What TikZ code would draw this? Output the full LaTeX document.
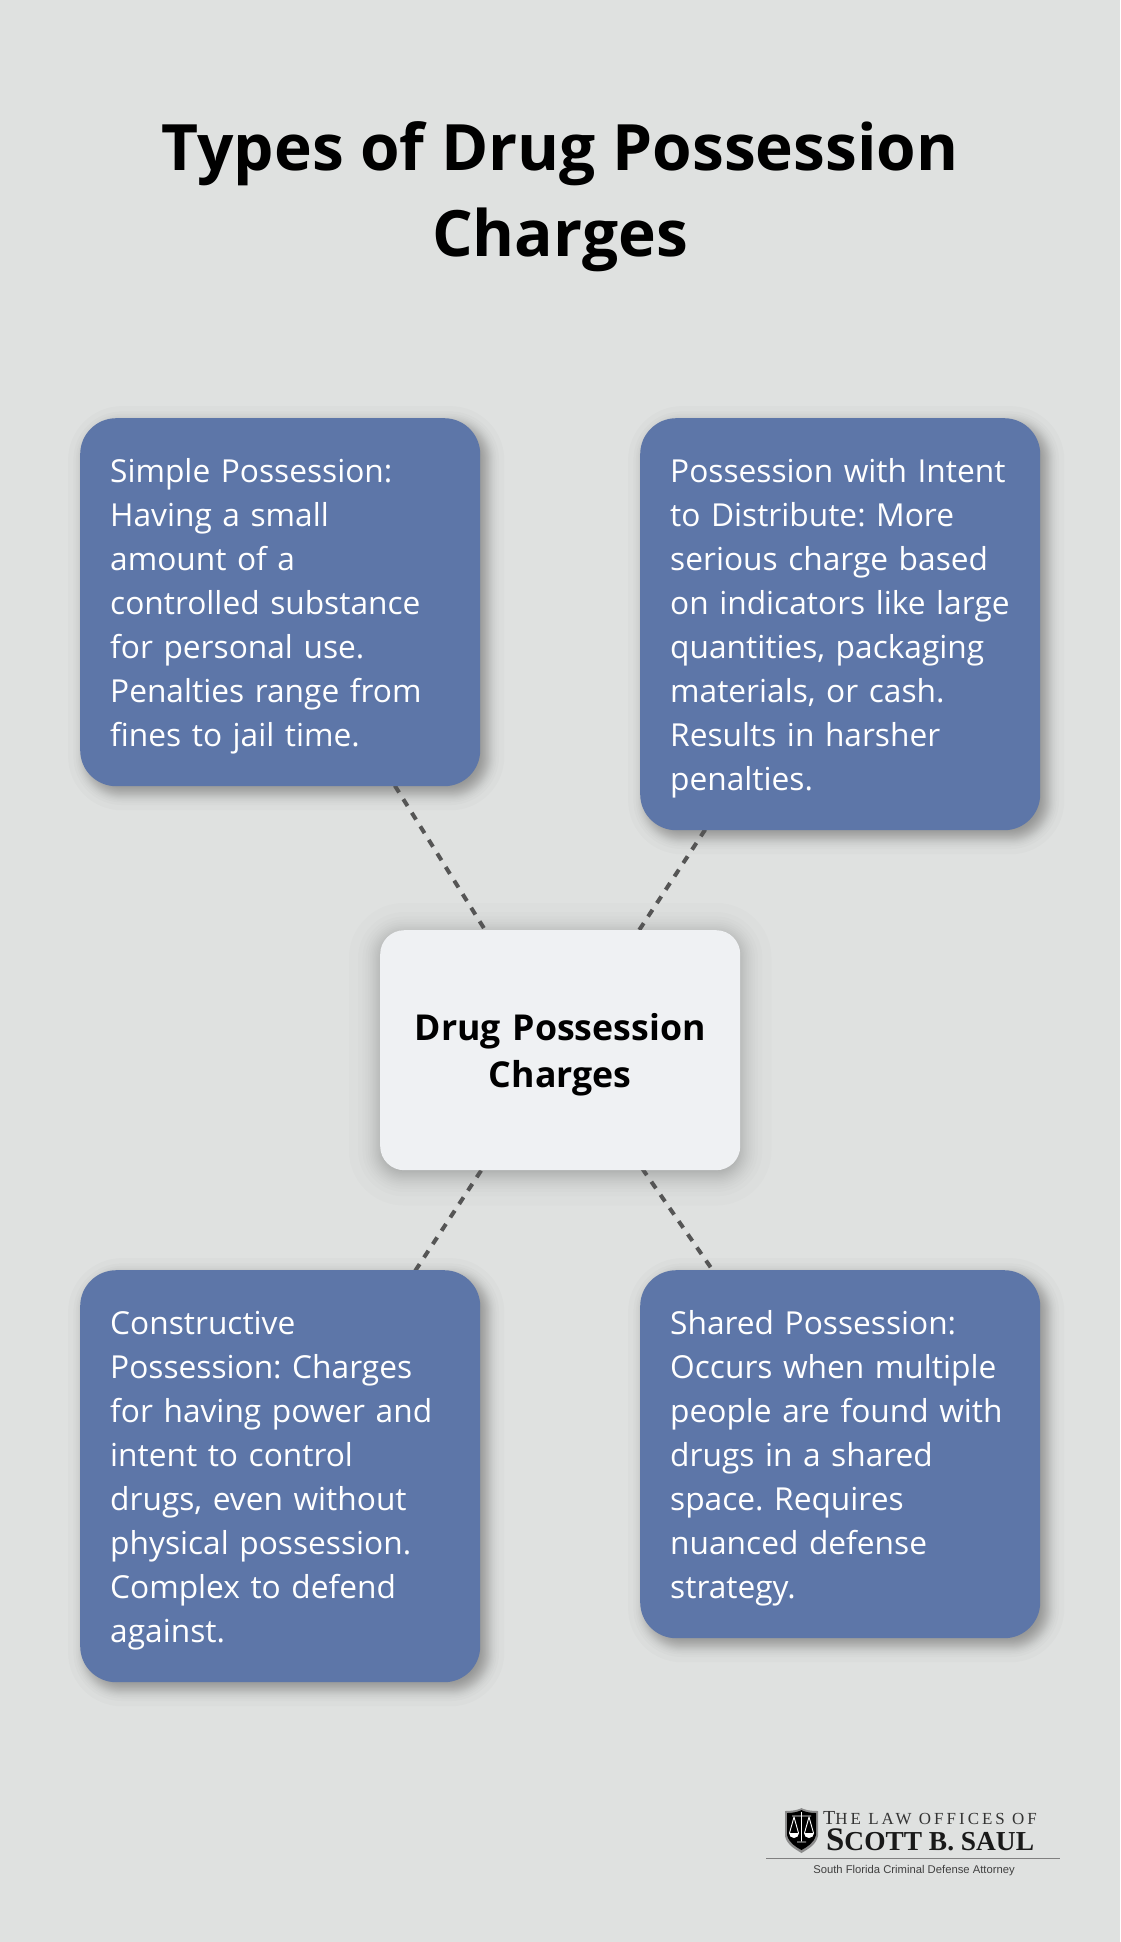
\documentclass[tikz,border=0pt]{standalone}
\usepackage{fontspec}
\setmainfont{Open Sans}
\newfontfamily\logoserif{Liberation Serif}[LetterSpace=18]
\newfontfamily\logoserifb{Liberation Serif}[LetterSpace=0]
\newfontfamily\logosans{Liberation Sans}
\usetikzlibrary{calc}
\frenchspacing
\definecolor{bgc}{HTML}{DFE1E0}
\definecolor{bluec}{HTML}{5D76A8}
\definecolor{centerc}{HTML}{EFF1F3}
\definecolor{linec}{HTML}{555555}
\pgfdeclarelayer{shadowlayer}
\pgfdeclarelayer{connlayer}
\pgfsetlayers{shadowlayer,connlayer,main}
\tikzset{
  x=1bp,y=-1bp,
  card/.style={draw=none,fill=bluec,text=white,rounded corners=36bp,minimum width=400bp,text width=340bp,inner xsep=30bp,inner ysep=0pt,text height=33bp,align=left,anchor=north west,font=\fontsize{31.8}{44.16}\selectfont},
  hub/.style={fill=centerc,rounded corners=24bp,minimum width=360bp,minimum height=240bp,text width=300bp,inner xsep=30bp,inner ysep=0pt,text height=36bp,align=center,anchor=north west,font=\fontsize{35.8}{47.2}\selectfont\bfseries,text=black},
  conn/.style={draw=linec,line width=4bp,dash pattern=on 8bp off 8bp},
  titlet/.style={align=center,font=\fontsize{64.2}{86.3}\selectfont\bfseries,text=black}
}
% \softshadow{nodename}{dx}{dy}{radius}{spread}{layers-1}{opacity per layer}
\newcommand{\softshadow}[7]{%
  \begin{pgfonlayer}{shadowlayer}%
  \foreach \k in {0,...,#6}{%
    \pgfmathsetmacro{\uu}{(\k+0.5)/(#6+1)}%
    \pgfmathsetmacro{\ex}{#5*ln((1-\uu)/\uu)}%
    \pgfmathsetmacro{\rr}{max(#4+\ex,1)}%
    \fill[black,opacity=#7,rounded corners=\rr bp]
      ($(#1.north west)+(#2-\ex,#3-\ex)$) rectangle ($(#1.south east)+(#2+\ex,#3+\ex)$);%
  }%
  \end{pgfonlayer}}
\begin{document}
\begin{tikzpicture}
\useasboundingbox (0,0) rectangle (1120,1942);
\begin{pgfonlayer}{shadowlayer}%
\fill[bgc] (0,0) rectangle (1120,1942);%
\end{pgfonlayer}
\node[titlet] (title) at (560,197) {Types of Drug Possession\\Charges};
\node[card,minimum height=368bp] (a) at (80,418) {Simple Possession:\\Having a small\\amount of a\\controlled substance\\for personal use.\\Penalties range from\\fines to jail time.};
\node[card,minimum height=412bp] (b) at (640,418) {Possession with Intent\\to Distribute: More\\serious charge based\\on indicators like large\\quantities, packaging\\materials, or cash.\\Results in harsher\\penalties.};
\node[hub] (h) at (380,930) {Drug Possession\\Charges};
\node[card,minimum height=412bp] (c) at (80,1270) {Constructive\\Possession: Charges\\for having power and\\intent to control\\drugs, even without\\physical possession.\\Complex to defend\\against.};
\node[card,minimum height=368bp] (d) at (640,1270) {Shared Possession:\\Occurs when multiple\\people are found with\\drugs in a shared\\space. Requires\\nuanced defense\\strategy.};
\softshadow{a}{6}{6}{36}{4.6}{24}{0.0142}
\softshadow{b}{6}{6}{36}{4.6}{24}{0.0142}
\softshadow{c}{6}{6}{36}{4.6}{24}{0.0142}
\softshadow{d}{6}{6}{36}{4.6}{24}{0.0142}
\softshadow{h}{0}{4}{24}{8}{24}{0.012}
\begin{pgfonlayer}{connlayer}%
\draw[conn] (h.center) -- (a.center);%
\draw[conn] (h.center) -- (b.center);%
\draw[conn] (h.center) -- (c.center);%
\draw[conn] (h.center) -- (d.center);%
\end{pgfonlayer}
% logo
\fill[black!45] (785,1811) .. controls (795,1811) and (800,1809) .. (801.5,1808) .. controls (803,1809) and (808,1811) .. (818,1811) -- (818,1836) .. controls (816,1845) and (808,1849) .. (801.5,1853) .. controls (795,1849) and (787,1845) .. (785,1836) -- cycle;
\fill[black] (787,1813) .. controls (795,1813) and (800,1811) .. (801.5,1810) .. controls (803,1811) and (808,1813) .. (816,1813) -- (816,1835) .. controls (814,1843) and (807,1847) .. (801.5,1850) .. controls (796,1847) and (789,1843) .. (787,1835) -- cycle;
\draw[white,line width=0.9bp] (801.5,1812) -- (801.5,1841) (797,1842) -- (806,1842) (792,1816) -- (811,1816)
  (794,1817) -- (789.5,1833) (794,1817) -- (798.5,1833) (809,1817) -- (804.5,1833) (809,1817) -- (813.5,1833);
\fill[white] (789,1833) arc[start angle=180,end angle=0,radius=5] -- cycle;
\fill[white] (804,1833) arc[start angle=180,end angle=0,radius=5] -- cycle;
\node[anchor=base west,inner sep=0,text=black!80] (logo1) at (823,1824) {\logoserif\fontsize{20}{20}\selectfont T\fontsize{17}{17}\selectfont HE L\fontsize{17}{17}\selectfont AW O\fontsize{17}{17}\selectfont FFICES OF};
\node[anchor=base west,inner sep=0,text=black!90] (logo2) at (826,1850) {\logoserifb\bfseries\fontsize{33}{33}\selectfont S\fontsize{27.5}{27.5}\selectfont COTT B. S\fontsize{27.5}{27.5}\selectfont AUL};
\draw[gray,line width=1bp] (766,1858) -- (1060,1858);
\node[anchor=base,inner sep=0,text=black!75] (logo3) at (914,1873) {\logosans\fontsize{11.3}{12}\selectfont South Florida Criminal Defense Attorney};
\end{tikzpicture}
\end{document}
